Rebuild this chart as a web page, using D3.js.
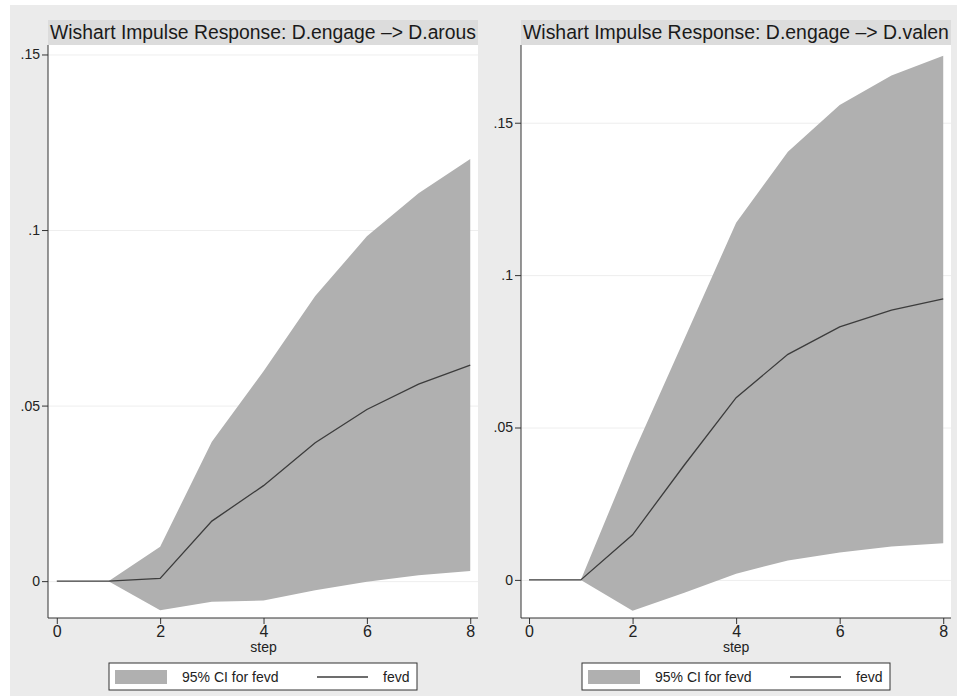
<!DOCTYPE html>
<html>
<head>
<meta charset="utf-8">
<script src="https://cdn.jsdelivr.net/npm/d3@7"></script>
<style>
  html, body { margin: 0; padding: 0; background: #fff; }
  svg { display: block; font-family: "Liberation Sans", Arial, Helvetica, sans-serif; }
</style>
</head>
<body>
<div id="chart"></div>
<script>
// steps 0..8
const steps = [0, 1, 2, 3, 4, 5, 6, 7, 8];

// D.engage -> D.arous
const arousFevd  = [0, 0, 0.0008, 0.0171, 0.0272, 0.0394, 0.0489, 0.0561, 0.0615];
const arousLower = [null, 0, -0.0083, -0.0059, -0.0055, -0.0026, -0.0002, 0.0017, 0.0029];
const arousUpper = [null, 0, 0.0098, 0.0397, 0.0598, 0.0812, 0.0982, 0.1105, 0.1202];

// D.engage -> D.valen
const valenFevd  = [0, 0, 0.0148, 0.0377, 0.0598, 0.0740, 0.0830, 0.0885, 0.0922];
const valenLower = [null, 0, -0.0101, -0.0042, 0.0020, 0.0064, 0.0090, 0.0110, 0.0120];
const valenUpper = [null, 0, 0.0410, 0.0790, 0.1172, 0.1405, 0.1558, 0.1655, 0.1720];

const yTicks = [0, 0.05, 0.1, 0.15];
const yTickLabels = ["0", ".05", ".1", ".15"];
const xTicks = [0, 2, 4, 6, 8];

const panels = [
  { title: "Wishart Impulse Response: D.engage \u2013> D.arous",
    fevd: arousFevd, lower: arousLower, upper: arousUpper,
    left: 48, right: 478, xDomain: [-0.17, 8.15], yDomain: [-0.0105, 0.1527],
    legendX: 109 },
  { title: "Wishart Impulse Response: D.engage \u2013> D.valen",
    fevd: valenFevd, lower: valenLower, upper: valenUpper,
    left: 521, right: 951, xDomain: [-0.155, 8.15], yDomain: [-0.0125, 0.1755],
    legendX: 582 }
];

const W = 957, H = 696;
const plotTop = 45, plotBottom = 618;

const svg = d3.select("#chart").append("svg")
  .attr("width", W).attr("height", H);

svg.append("rect").attr("x", 10).attr("y", 5)
  .attr("width", W - 10).attr("height", H - 5).attr("fill", "#ebebeb");

panels.forEach(p => {
  const x = d3.scaleLinear().domain(p.xDomain).range([p.left, p.right]);
  const y = d3.scaleLinear().domain(p.yDomain).range([plotBottom, plotTop]);
  const g = svg.append("g");

  // title strip
  g.append("rect").attr("x", p.left).attr("y", 20)
    .attr("width", p.right - p.left).attr("height", 25).attr("fill", "#dcdcdc");
  const t = g.append("text").attr("x", p.left + 2).attr("y", 39)
    .attr("fill", "#1a1a1a").style("font-size", "18px").text(p.title);
  const len = t.node().getComputedTextLength();
  t.style("font-size", (18 * (p.right - p.left - 4) / len).toFixed(2) + "px");

  // plot region
  g.append("rect").attr("x", p.left).attr("y", plotTop)
    .attr("width", p.right - p.left).attr("height", plotBottom - plotTop).attr("fill", "#fff");

  // grid
  g.append("g")
    .attr("transform", `translate(${p.left},0)`)
    .call(d3.axisLeft(y).tickValues(yTicks).tickSize(-(p.right - p.left)).tickFormat(""))
    .call(s => s.select(".domain").remove())
    .call(s => s.selectAll("line").attr("stroke", "#eeeeee"));

  // CI band
  const rows = steps.map((s, i) => ({ s, f: p.fevd[i], lo: p.lower[i], hi: p.upper[i] }));
  g.append("path")
    .datum(rows.filter(d => d.lo !== null))
    .attr("fill", "#b0b0b0")
    .attr("d", d3.area().x(d => x(d.s)).y0(d => y(d.lo)).y1(d => y(d.hi)));

  // fevd line
  g.append("path")
    .datum(rows)
    .attr("fill", "none").attr("stroke", "#3c3c3c").attr("stroke-width", 1.3)
    .attr("d", d3.line().x(d => x(d.s)).y(d => y(d.f)));

  // axes
  g.append("g")
    .attr("transform", `translate(${p.left},0)`)
    .call(d3.axisLeft(y).tickValues(yTicks).tickSize(6).tickPadding(2)
      .tickFormat((d, i) => yTickLabels[i]))
    .call(s => s.select(".domain").attr("d", `M0,${plotTop}V${plotBottom}`))
    .call(s => s.selectAll("line, path").attr("stroke", "#333"))
    .call(s => s.selectAll("text").attr("fill", "#222").style("font-size", "14px")
      .style("font-family", "'Liberation Sans', Arial, sans-serif"));

  g.append("g")
    .attr("transform", `translate(0,${plotBottom})`)
    .call(d3.axisBottom(x).tickValues(xTicks).tickSize(6).tickPadding(2).tickFormat(d3.format("d")))
    .call(s => s.select(".domain").attr("d", `M${p.left},0H${p.right}`))
    .call(s => s.selectAll("line, path").attr("stroke", "#333"))
    .call(s => s.selectAll("text").attr("fill", "#222").style("font-size", "16px")
      .style("font-family", "'Liberation Sans', Arial, sans-serif"));

  g.append("text")
    .attr("x", x(4)).attr("y", 652)
    .attr("text-anchor", "middle").attr("fill", "#222").style("font-size", "14px")
    .text("step");

  // legend
  const lg = g.append("g").attr("transform", `translate(${p.legendX},663)`);
  lg.append("rect").attr("width", 308).attr("height", 27)
    .attr("fill", "#fff").attr("stroke", "#333").attr("stroke-width", 1);
  lg.append("rect").attr("x", 6).attr("y", 7).attr("width", 52).attr("height", 14)
    .attr("fill", "#b0b0b0");
  lg.append("text").attr("x", 73).attr("y", 19).attr("fill", "#222")
    .style("font-size", "14px").text("95% CI for fevd");
  lg.append("line").attr("x1", 208).attr("x2", 259).attr("y1", 14).attr("y2", 14)
    .attr("stroke", "#3c3c3c").attr("stroke-width", 1.3);
  lg.append("text").attr("x", 274).attr("y", 19).attr("fill", "#222")
    .style("font-size", "14px").text("fevd");
});
</script>
</body>
</html>
